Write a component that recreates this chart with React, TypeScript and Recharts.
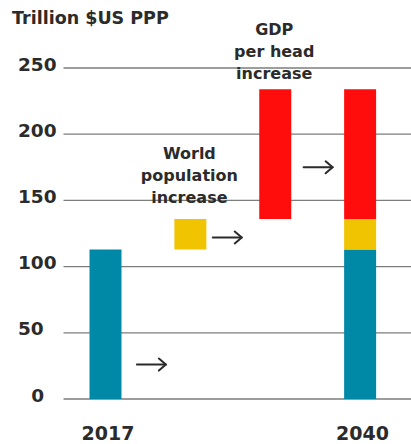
import React from 'react';
import {
  BarChart,
  Bar,
  XAxis,
  YAxis,
  CartesianGrid,
  ReferenceLine,
  LabelList,
} from 'recharts';

// Steps of the walk from 2017 world GDP to 2040 world GDP
const categories = ['2017', 'population', 'gdpPerHead', '2040'];
const tickLabels = ['2017', '', '', '2040'];

// Invisible offset that lifts the floating steps
const offsetValues = [0, 113, 136, 0];
// Trillion $US PPP
const baseGdpValues = [113, 0, 0, 113];
const populationValues = [0, 23, 0, 23];
const gdpPerHeadValues = [0, 0, 98, 98];

const populationNote = ['', 'World\npopulation\nincrease', '', ''];
const gdpPerHeadNote = ['', '', 'GDP\nper head\nincrease', ''];

const yTicks = [0, 50, 100, 150, 200, 250];

// Arrows linking consecutive steps (from, to, height in trillions)
const arrowFrom = ['2017', 'population', 'gdpPerHead'];
const arrowTo = ['population', 'gdpPerHead', '2040'];
const arrowLevel = [26, 122, 175];
const arrowShift = [3, -6, 0];

const data = categories.map((category, i) => ({
  category,
  label: tickLabels[i],
  offset: offsetValues[i],
  base: baseGdpValues[i],
  population: populationValues[i],
  gdpPerHead: gdpPerHeadValues[i],
  populationNote: populationNote[i],
  gdpPerHeadNote: gdpPerHeadNote[i],
}));

const FONT = '"DejaVu Sans", sans-serif';
const INK = '#2b2b2b';
const TEAL = '#0089a7';
const YELLOW = '#f0c400';
const RED = '#ff0c0c';

const YTick = (props: any) => {
  const { y, payload } = props;
  const isZero = payload.value === 0;
  return (
    <text
      x={isZero ? 44 : 18}
      y={y + 2.5}
      textAnchor={isZero ? 'end' : 'start'}
      fontFamily={FONT}
      fontWeight="bold"
      fontSize={18.5}
      fill={INK}
    >
      {payload.value}
    </text>
  );
};

const XTick = (props: any) => {
  const { x, payload, index } = props;
  const text = tickLabels[index] ?? '';
  if (!text) return null;
  return (
    <text
      x={x + 2}
      y={440}
      textAnchor="middle"
      fontFamily={FONT}
      fontWeight="bold"
      fontSize={19}
      fill={INK}
    >
      {text}
    </text>
  );
};

const makeNote = (gap: number) => (props: any) => {
  const { x, y, width, value } = props;
  if (!value) return null;
  const lines = String(value).split('\n');
  const lineHeight = 22;
  const cx = x + width / 2 - 1;
  const lastBaseline = y - gap;
  return (
    <text
      textAnchor="middle"
      fontFamily={FONT}
      fontWeight="bold"
      fontSize={16}
      fill={INK}
    >
      {lines.map((line, i) => (
        <tspan
          key={i}
          x={cx}
          y={lastBaseline - (lines.length - 1 - i) * lineHeight}
        >
          {line}
        </tspan>
      ))}
    </text>
  );
};

const makeArrow = (shift: number) => (props: any) => {
  const { x1, y1, x2 } = props;
  const len = 29;
  const mid = (x1 + x2) / 2 + shift;
  const start = mid - len / 2;
  const end = mid + len / 2;
  const y = y1;
  return (
    <g stroke={INK} strokeWidth={2} fill="none" strokeLinecap="round" strokeLinejoin="round">
      <line x1={start} y1={y} x2={end} y2={y} />
      <polyline points={`${end - 7},${y - 6} ${end},${y} ${end - 7},${y + 6}`} />
    </g>
  );
};

export default function App() {
  return (
    <div
      style={{
        position: 'absolute',
        left: 0,
        top: 0,
        width: 411,
        height: 444,
        background: '#fff',
      }}
    >
      <div
        style={{
          position: 'absolute',
          left: 12,
          top: 6,
          fontFamily: FONT,
          fontWeight: 'bold',
          fontSize: 17.5,
          color: INK,
          whiteSpace: 'nowrap',
          lineHeight: '24px',
        }}
      >
        Trillion $US PPP
      </div>
      <BarChart
        width={411}
        height={444}
        data={data}
        margin={{ top: 68, right: 0, bottom: 0, left: 0 }}
        barSize={32}
        style={{ position: 'absolute', left: 0, top: 0 }}
      >
        <CartesianGrid vertical={false} stroke="#7d7d7d" strokeWidth={1.3} />
        <XAxis
          dataKey="category"
          axisLine={false}
          tickLine={false}
          height={45}
          padding={{ left: 0, right: 8 }}
          tick={<XTick />}
          interval={0}
        />
        <YAxis
          domain={[0, 250]}
          ticks={yTicks}
          width={63.5}
          axisLine={false}
          tickLine={false}
          tick={<YTick />}
          interval={0}
        />
        <Bar dataKey="offset" stackId="walk" fill="transparent" isAnimationActive={false} />
        <Bar dataKey="base" stackId="walk" fill={TEAL} isAnimationActive={false} />
        <Bar dataKey="population" stackId="walk" fill={YELLOW} isAnimationActive={false}>
          <LabelList dataKey="populationNote" content={makeNote(16)} />
        </Bar>
        <Bar dataKey="gdpPerHead" stackId="walk" fill={RED} isAnimationActive={false}>
          <LabelList dataKey="gdpPerHeadNote" content={makeNote(10)} />
        </Bar>
        {arrowFrom.map((from, i) => (
          <ReferenceLine
            key={from}
            segment={[
              { x: from, y: arrowLevel[i] },
              { x: arrowTo[i], y: arrowLevel[i] },
            ]}
            shape={makeArrow(arrowShift[i])}
          />
        ))}
      </BarChart>
    </div>
  );
}
